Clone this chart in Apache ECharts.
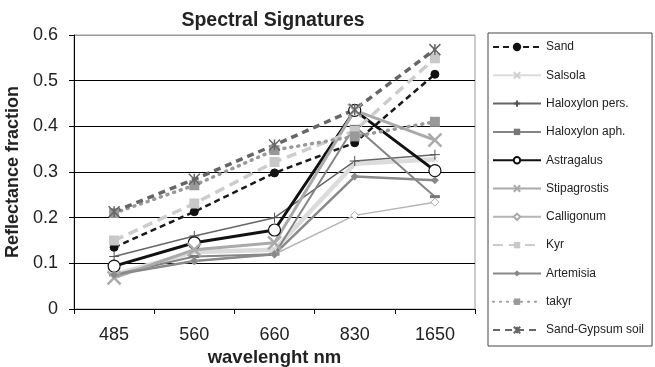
<!DOCTYPE html>
<html><head><meta charset="utf-8">
<script src="https://cdn.jsdelivr.net/npm/echarts@6/dist/echarts.min.js"></script>
<style>html,body{margin:0;padding:0;background:#fff}#c{width:655px;height:367px}</style>
</head><body><div id="c"></div>
<script>
var categories = ['485', '560', '660', '830', '1650'];
var seriesNames = ['Sand','Salsola','Haloxylon pers.','Haloxylon aph.','Astragalus','Stipagrostis','Calligonum','Kyr','Artemisia','takyr','Sand-Gypsum soil'];
var sand        = [0.135, 0.213, 0.298, 0.364, 0.514];
var salsola     = [0.075, 0.125, 0.130, 0.318, 0.328];
var haloxPers   = [0.115, 0.160, 0.200, 0.324, 0.338];
var haloxAph    = [0.075, 0.115, 0.120, 0.400, 0.246];
var astragalus  = [0.094, 0.145, 0.173, 0.435, 0.303];
var stipagrostis= [0.068, 0.130, 0.145, 0.435, 0.370];
var calligonum  = [0.075, 0.105, 0.120, 0.205, 0.234];
var kyr         = [0.150, 0.231, 0.322, 0.390, 0.549];
var artemisia   = [0.075, 0.105, 0.120, 0.290, 0.282];
var takyr       = [0.210, 0.271, 0.348, 0.378, 0.410];
var sandGypsum  = [0.213, 0.284, 0.359, 0.437, 0.568];

var X = 'path://M0,0L10,10M10,0L0,10';
var PLUS = 'path://M5,0L5,10M0,5L10,5';
var DASH = 'path://M0,4L10,4L10,6L0,6Z';
var AST = 'path://M0,0L10,10M10,0L0,10M5,0L5,10';

function mk(name, data, lc, lw, ltype, sym, ssize, fill, border, bw) {
  return {
    name: name, type: 'line', data: data, symbol: sym, symbolSize: ssize,
    lineStyle: {color: lc, width: lw, type: ltype},
    itemStyle: {color: fill, borderColor: border, borderWidth: bw},
    z: 2
  };
}
var series = [
  mk(seriesNames[0], sand, '#1a1a1a', 2.5, [6,4], 'circle', 8, '#111', '#111', 1),
  mk(seriesNames[1], salsola, '#dcdcdc', 4.5, 'solid', X, 5, 'rgba(0,0,0,0)', '#cfcfcf', 1),
  mk(seriesNames[2], haloxPers, '#666', 1.5, 'solid', PLUS, 10, 'rgba(0,0,0,0)', '#555', 1),
  mk(seriesNames[3], haloxAph, '#858585', 2, 'solid', DASH, [10, 3], '#777', '#777', 0),
  mk(seriesNames[4], astragalus, '#111', 3, 'solid', 'circle', 12, '#fff', '#111', 1.2),
  mk(seriesNames[5], stipagrostis, '#aaa', 3, 'solid', X, 13, 'rgba(0,0,0,0)', '#aaa', 2.5),
  mk(seriesNames[6], calligonum, '#b5b5b5', 1.5, 'solid', 'diamond', 8, '#fff', '#aaa', 1),
  mk(seriesNames[7], kyr, '#cccccc', 3.5, [10,6], 'rect', 10, '#c8c8c8', '#c8c8c8', 0),
  mk(seriesNames[8], artemisia, '#8a8a8a', 2.5, 'solid', 'diamond', 8, '#888', '#888', 0),
  mk(seriesNames[9], takyr, '#999', 3.5, [1,6], 'rect', 10, '#999', '#999', 0),
  mk(seriesNames[10], sandGypsum, '#666', 3.5, [7,5], AST, 11, 'rgba(0,0,0,0)', '#666', 1.5)
];
series[9].lineStyle.cap = 'round';

var chart = echarts.init(document.getElementById('c'), null, {renderer: 'canvas'});
chart.setOption({
  animation: false,
  backgroundColor: '#fff',
  textStyle: {fontFamily: 'Liberation Sans, Arial, sans-serif'},
  title: {text: 'Spectral Signatures', left: 268, textAlign: 'center', top: 6,
    textStyle: {fontSize: 19.5, fontWeight: 'bold', color: '#222', fontFamily: 'Liberation Sans, Arial, sans-serif'}},
  grid: {left: 74, right: 180, top: 35, bottom: 58, show: true, borderColor: '#999', borderWidth: 1, outerBoundsMode: 'none'},
  legend: {
    orient: 'vertical', left: 488, top: 33,
    data: seriesNames,
    itemWidth: 48, itemHeight: 8, itemGap: 16.3,
    padding: [8, 8, 10, 4],
    borderColor: '#444', borderWidth: 1,
    textStyle: {fontSize: 12, color: '#222'},
    selectedMode: false
  },
  xAxis: {
    type: 'category', data: categories, boundaryGap: true,
    name: 'wavelenght nm', nameLocation: 'middle', nameGap: 37,
    nameTextStyle: {fontSize: 18.5, fontWeight: 'bold', color: '#222'},
    axisLine: {lineStyle: {color: '#000', width: 1}},
    axisTick: {show: true, length: 5, lineStyle: {color: '#000'}},
    axisLabel: {fontSize: 18, color: '#222', margin: 17},
    splitLine: {show: false}
  },
  yAxis: {
    type: 'value', min: 0, max: 0.6, interval: 0.1,
    name: 'Reflectance fraction', nameLocation: 'middle', nameGap: 39,
    nameTextStyle: {fontSize: 18, fontWeight: 'bold', color: '#222'},
    axisLine: {show: true, lineStyle: {color: '#000', width: 1}},
    axisTick: {show: true, length: 5, lineStyle: {color: '#000'}},
    axisLabel: {fontSize: 18, color: '#222', margin: 16},
    splitLine: {show: true, lineStyle: {color: ['#000','#000','#000','#000','#000','#000','#999'], width: 1}}
  },
  series: series
});
</script></body></html>
